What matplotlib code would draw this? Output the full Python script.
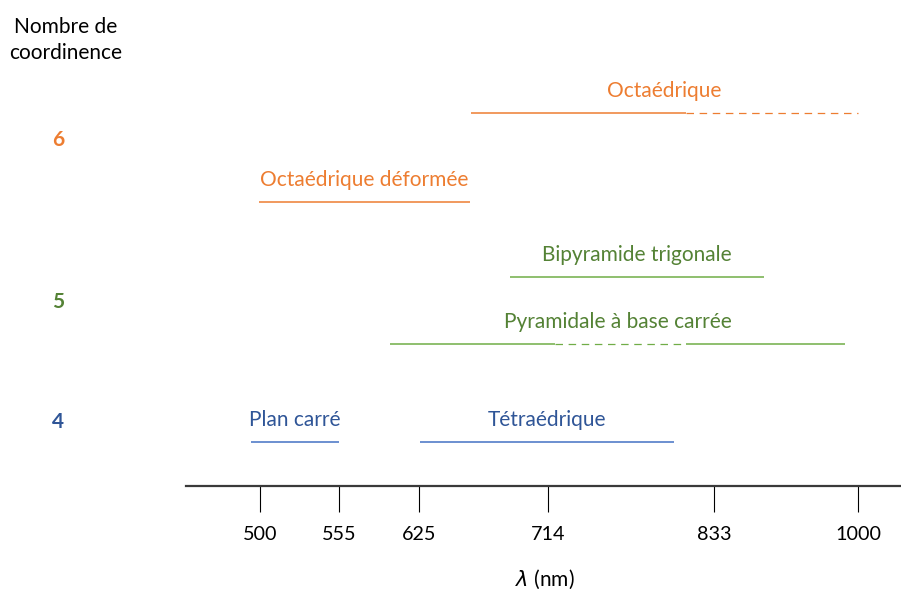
import numpy as np
import matplotlib
matplotlib.use('Agg')
import matplotlib.pyplot as plt
from matplotlib.ticker import NullLocator

plt.rcParams['font.family'] = ['Lato', 'DejaVu Sans']

# données
tick_nm = [500, 555, 625, 714, 833, 1000]
geometries = ['Octaédrique', 'Octaédrique déformée', 'Bipyramide trigonale',
              'Pyramidale à base carrée', 'Plan carré', 'Tétraédrique']
coordination = [6, 6, 5, 5, 4, 4]
solid_ranges = [[(661, 813)], [(499, 660)], [(688, 891)],
                [(600, 719), (813, 985)], [(494, 555)], [(626, 804)]]
dashed_ranges = [[(813, 1000)], [], [], [(719, 813)], [], []]

# mise en page (pixels)
W, H = 901, 589
tick_px = [260, 339, 419, 548, 714, 858]
line_y = [113, 202, 277, 344, 442, 442]
level_y = {6: 140, 5: 302, 4: 422}
axis_y = 486

text_col = {6: '#ED7D31', 5: '#548235', 4: '#2F5597'}
line_col = {6: '#ED7D31', 5: '#70AD47', 4: '#4472C4'}
FS = 15

# échelle non linéaire : nm -> position
s0 = (tick_px[1] - tick_px[0]) / (tick_nm[1] - tick_nm[0])
s1 = (tick_px[-1] - tick_px[-2]) / (tick_nm[-1] - tick_nm[-2])
nm_ext = np.array([0] + tick_nm + [3000], dtype=float)
px_ext = np.array([tick_px[0] - tick_nm[0] * s0] + tick_px +
                  [tick_px[-1] + (3000 - tick_nm[-1]) * s1], dtype=float)


def fwd(x):
    return np.interp(x, nm_ext, px_ext)


def inv(p):
    return np.interp(p, px_ext, nm_ext)


fig = plt.figure(figsize=(W / 100, H / 100), dpi=100)
ax = fig.add_axes([0, 0, 1, 1])
ax.set_xscale('function', functions=(fwd, inv))
ax.set_xlim(inv(0), inv(W))
ax.set_ylim(H, 0)

for sp in ['top', 'left', 'right']:
    ax.spines[sp].set_visible(False)
ax.spines['bottom'].set_position(('data', axis_y))
ax.spines['bottom'].set_bounds(inv(186), inv(W))
ax.spines['bottom'].set_linewidth(1.6)
ax.spines['bottom'].set_color('#3a3a3a')

ax.set_xticks(tick_nm)
ax.set_xticklabels([str(t) for t in tick_nm])
ax.xaxis.set_minor_locator(NullLocator())
ax.tick_params(axis='x', direction='out', length=19, width=0.8,
               pad=10, labelsize=14.2, colors='black')
ax.set_yticks([])

for i, g in enumerate(geometries):
    c = coordination[i]
    y = line_y[i]
    for a, b in solid_ranges[i]:
        ax.plot([a, b], [y, y], color=line_col[c], lw=1.1, solid_capstyle='butt')
    for a, b in dashed_ranges[i]:
        ax.plot([a, b], [y, y], color=line_col[c], lw=0.9, ls=(0, (6, 4.5)))
    ends = [v for r in solid_ranges[i] + dashed_ranges[i] for v in r]
    mid = inv((fwd(min(ends)) + fwd(max(ends))) / 2)
    ax.text(mid, y - 22, g, color=text_col[c], fontsize=FS,
            ha='center', va='center')

for c, y in level_y.items():
    ax.text(58 / W, y, str(c), transform=ax.get_yaxis_transform(),
            color=text_col[c], fontsize=FS, fontweight='bold',
            ha='center', va='center')

fig.text(66 / W, 1 - 40 / H, 'Nombre de\ncoordinence', fontsize=FS,
         ha='center', va='center', linespacing=1.4)
fig.text(545 / W, 1 - 579 / H, r'$\lambda$ (nm)', fontsize=FS,
         ha='center', va='center')

plt.savefig('out.png', dpi=100)
